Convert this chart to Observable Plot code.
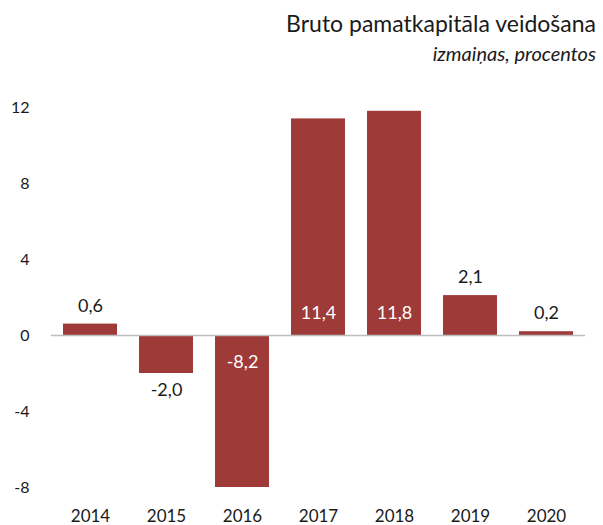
<!DOCTYPE html>
<html><head><meta charset="utf-8">
<script src="https://cdn.jsdelivr.net/npm/d3@7"></script>
<script src="https://cdn.jsdelivr.net/npm/@observablehq/plot@0.6"></script>
<style>
body{margin:0;background:#fff;font-family:Lato,sans-serif;}
#head{position:relative;height:70px;width:603px;color:#1a1a1a;}
#title{position:absolute;right:7px;top:10px;font-size:23px;line-height:26px;white-space:nowrap;}
#sub{position:absolute;right:7px;top:42px;font-size:20px;line-height:22px;font-style:italic;white-space:nowrap;}
</style></head><body>
<div id="head"><div id="title">Bruto pamatkapitāla veidošana</div><div id="sub">izmaiņas, procentos</div></div>
<div id="chart"></div>
<script>
const years = ["2014", "2015", "2016", "2017", "2018", "2019", "2020"];
const values = [0.6, -2.0, -8.2, 11.4, 11.8, 2.1, 0.2];
const yTicks = [-8, -4, 0, 4, 8, 12];

const data = years.map((year, i) => ({year, value: values[i]}));
const fmt = v => v.toFixed(1).replace(".", ",");
const outsidePos = data.filter(d => d.value >= 0 && d.value < 5);
const outsideNeg = data.filter(d => d.value < 0 && d.value > -5);
const insidePos = data.filter(d => d.value >= 5);
const insideNeg = data.filter(d => d.value <= -5);
const barColor = "#9e3b39";

const chart = Plot.plot({
  width: 603,
  height: 455,
  marginTop: 37,
  marginBottom: 38,
  marginLeft: 51,
  marginRight: 18,
  style: {fontFamily: "Lato, sans-serif", color: "#1a1a1a", background: "#fff"},
  x: {domain: years, paddingInner: 0.29, paddingOuter: 0.145, label: null},
  y: {domain: [-8, 12], label: null},
  marks: [
    Plot.barY(data, {x: "year", y: "value", fill: barColor, clip: true}),
    Plot.ruleY([0], {stroke: "#bdbdbd", strokeWidth: 1.5}),
    Plot.axisY({ticks: yTicks, tickSize: 0, tickPadding: 22, tickFormat: d => String(d), fontSize: 16, label: null}),
    Plot.axisX({tickSize: 0, tickPadding: 22, fontSize: 17, label: null}),
    Plot.text(outsidePos, {x: "year", y: "value", text: d => fmt(d.value), dy: -18, fontSize: 18, fill: "#1a1a1a"}),
    Plot.text(outsideNeg, {x: "year", y: "value", text: d => fmt(d.value), dy: 17, fontSize: 18, fill: "#1a1a1a"}),
    Plot.text(insidePos, {x: "year", y: 0, text: d => fmt(d.value), dy: -22, fontSize: 18, fill: "#fff"}),
    Plot.text(insideNeg, {x: "year", y: 0, text: d => fmt(d.value), dy: 27, fontSize: 18, fill: "#fff"})
  ]
});
document.getElementById("chart").appendChild(chart);
</script>
</body></html>
